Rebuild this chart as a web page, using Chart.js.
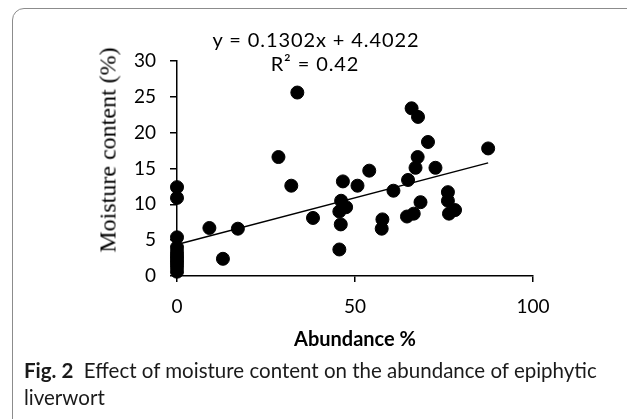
<!DOCTYPE html>
<html>
<head>
<meta charset="utf-8">
<script src="https://cdn.jsdelivr.net/npm/chart.js@4.4.0/dist/chart.umd.min.js"></script>
<style>
  body { margin: 0; background: #fff; }
  #wrap { position: relative; width: 627px; height: 419px; overflow: hidden; background: #fff; }
  #frame { position: absolute; left: 12px; top: 8px; width: 650px; height: 430px; border: 1px solid #8c8c8c; border-radius: 12px; }
  #mychart { position: absolute; left: 0; top: 0; }
  .txt { position: absolute; color: #000; white-space: nowrap; font-family: Lato, sans-serif; }
  #ytitle { left: 108px; top: 150px; transform: translate(-50%, -50%) rotate(-90deg); font-family: "Liberation Serif", serif; font-size: 24px; }
  #xtitle { left: 355px; top: 338px; transform: translate(-50%, -50%); font-weight: bold; font-size: 20px; }
  #eq1 { left: 316px; top: 39px; transform: translate(-50%, -50%); font-size: 20px; letter-spacing: 0.9px; }
  #eq2 { left: 315px; top: 63px; transform: translate(-50%, -50%); font-size: 20px; letter-spacing: 0.9px; }
  #caption { left: 24px; top: 357px; font-size: 20.5px; line-height: 27px; color: #1a1a1a; }
</style>
</head>
<body>
<div id="wrap">
  <div id="frame"></div>
  <canvas id="mychart" width="627" height="419"></canvas>
  <div class="txt" id="ytitle">Moisture content (%)</div>
  <div class="txt" id="xtitle">Abundance %</div>
  <div class="txt" id="eq1">y = 0.1302x + 4.4022</div>
  <div class="txt" id="eq2">R² = 0.42</div>
  <div class="txt" id="caption"><b>Fig. 2</b>&nbsp; Effect of moisture content on the abundance of epiphytic<br>liverwort</div>
</div>
<script>
var abundance=[0,0,0,0,0,0,0,0,0,0,0,
  9.1,12.9,17.1,28.5,32.1,33.8,38.2,
  45.6,46.0,45.6,46.1,47.5,46.6,50.7,54.0,
  57.5,57.7,60.8,64.6,66.5,68.4,64.9,67.0,67.6,65.9,67.7,70.5,72.6,
  76.1,76.1,76.4,78.1,87.4]
var moisture=[12.4,10.9,5.4,4.0,3.4,2.9,2.5,2.1,1.7,1.2,0.6,
  6.7,2.4,6.6,16.6,12.6,25.6,8.1,
  3.7,7.2,9.0,10.5,9.6,13.2,12.6,14.7,
  6.6,7.9,11.9,8.3,8.7,10.3,13.4,15.1,16.6,23.4,22.2,18.7,15.1,
  11.7,10.5,8.7,9.2,17.8]
var slope=0.1302
var intercept=4.4022
var xTicks=[0,50,100]
var yTicks=[0,5,10,15,20,25,30]

var points=[]
for(var i=0;i<abundance.length;i++){
  points.push({x:abundance[i],y:moisture[i]})
}
var xmax=Math.max.apply(null,abundance)
var trend=[{x:0,y:intercept},{x:xmax,y:slope*xmax+intercept}]

var tickFont={family:'Lato',size:19}

var ctx=document.getElementById("mychart").getContext('2d')
var chart=new Chart(ctx,{
  type:'scatter',
  data:{
    datasets:[
      {
        type:'line',
        data:trend,
        borderColor:'#000',
        borderWidth:1.5,
        pointRadius:0,
        fill:false,
        clip:false
      },
      {
        data:points,
        backgroundColor:'#000',
        borderColor:'#000',
        pointRadius:6.5,
        pointHoverRadius:6.5,
        clip:false
      }
    ]
  },
  options:{
    responsive:false,
    animation:false,
    events:[],
    layout:{padding:{left:117,top:61,right:94,bottom:103}},
    plugins:{legend:{display:false},tooltip:{enabled:false}},
    scales:{
      x:{
        type:'linear',
        min:0,max:100,
        afterBuildTicks:function(s){s.ticks=xTicks.map(function(v){return {value:v}})},
        afterFit:function(s){s.height=40},
        border:{display:true,color:'#000',width:1.5},
        grid:{display:true,drawOnChartArea:false,drawTicks:true,tickLength:6,color:'#000',lineWidth:1.5},
        ticks:{color:'#000',font:tickFont,padding:13,maxRotation:0}
      },
      y:{
        type:'linear',
        min:0,max:30,
        afterBuildTicks:function(s){s.ticks=yTicks.map(function(v){return {value:v}})},
        afterFit:function(s){s.width=60},
        border:{display:true,color:'#000',width:1.5},
        grid:{display:true,drawOnChartArea:false,drawTicks:true,tickLength:7,color:'#000',lineWidth:1.5},
        ticks:{color:'#000',font:tickFont,padding:14}
      }
    }
  }
})
</script>
</body>
</html>
